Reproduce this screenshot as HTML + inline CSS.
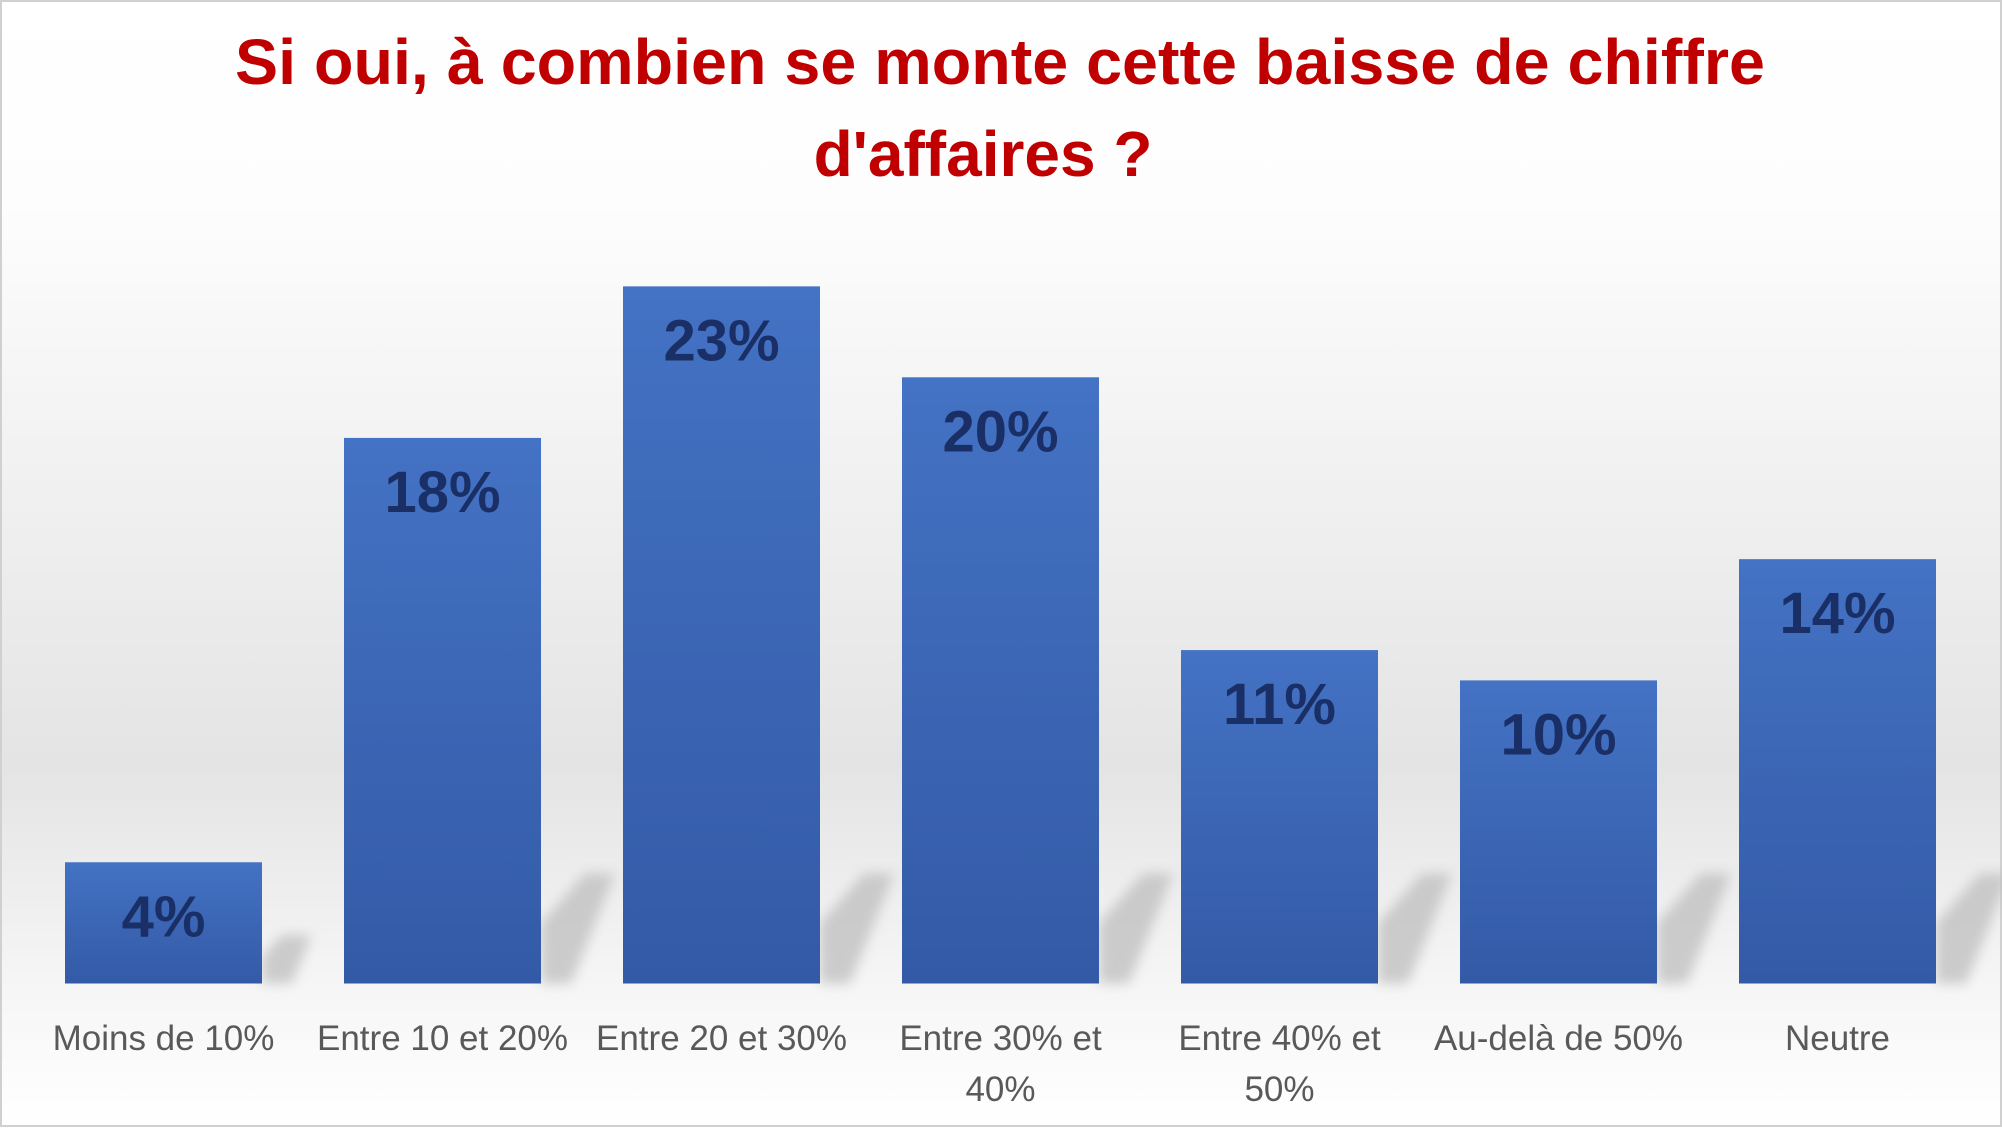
<!DOCTYPE html>
<html><head><meta charset="utf-8"><style>
html,body{margin:0;padding:0;}
body{width:2002px;height:1127px;overflow:hidden;font-family:"Liberation Sans",sans-serif;}
</style></head><body>
<svg id="chart" width="2002" height="1127" xmlns="http://www.w3.org/2000/svg">
<defs>
<linearGradient id="bg" x1="0" y1="0" x2="0" y2="1">
<stop offset="0" stop-color="#ffffff"/>
<stop offset="0.18" stop-color="#fdfdfd"/>
<stop offset="0.68" stop-color="#e4e4e4"/>
<stop offset="0.88" stop-color="#f6f6f6"/>
<stop offset="1" stop-color="#ffffff"/>
</linearGradient>
<linearGradient id="barg" x1="0" y1="0" x2="0" y2="1">
<stop offset="0" stop-color="#4472c4"/>
<stop offset="1" stop-color="#335aa6"/>
</linearGradient>
<filter id="blur"><feGaussianBlur stdDeviation="6"/></filter>
</defs>
<rect x="1" y="1" width="2000" height="1125" fill="url(#bg)" stroke="#d0d0d0" stroke-width="2"/>
<text x="1000" y="84" text-anchor="middle" font-size="64" font-weight="bold" fill="#c00000" textLength="1530" lengthAdjust="spacingAndGlyphs">Si oui, à combien se monte cette baisse de chiffre</text>
<text x="983" y="176" text-anchor="middle" font-size="64" font-weight="bold" fill="#c00000">d'affaires ?</text>
<g id="shadows" filter="url(#blur)"></g>
<g id="bars"></g>
<g id="labels"></g>
</svg>
<script>
const categories = [["Moins de 10%"],["Entre 10 et 20%"],["Entre 20 et 30%"],["Entre 30% et","40%"],["Entre 40% et","50%"],["Au-delà de 50%"],["Neutre"]];
const values = [4,18,23,20,11,10,14];
const valueLabels = ["4%","18%","23%","20%","11%","10%","14%"];

const NS="http://www.w3.org/2000/svg";
const baseY=983.5, pxPerUnit=30.31, step=279.0, left=65+98.5-step/2, barW=197;
function yScale(v){return baseY - v*pxPerUnit;}
function xCenter(i){return left + step*i + step/2;}
const bars=document.getElementById('bars'), labels=document.getElementById('labels'), shadows=document.getElementById('shadows');
values.forEach((v,i)=>{
  const x=xCenter(i)-barW/2, y=yScale(v);
  const sh=document.createElementNS(NS,'polygon');
  const sx=x+barW, sd=Math.min(110,(baseY-y)*0.4);
  sh.setAttribute('points',`${sx},${baseY} ${sx},${baseY-sd*0.55} ${sx+sd*0.4},${baseY-sd} ${sx+sd*0.4+30},${baseY-sd} ${sx+30},${baseY}`);
  sh.setAttribute('fill','#bdbdbd');
  sh.setAttribute('opacity','0.75');
  
  
  shadows.appendChild(sh);
  const r=document.createElementNS(NS,'rect');
  r.setAttribute('x',x);r.setAttribute('y',y);r.setAttribute('width',barW);r.setAttribute('height',baseY-y);
  r.setAttribute('fill','url(#barg)');
  
  
  bars.appendChild(r);
  const t=document.createElementNS(NS,'text');
  t.setAttribute('x',xCenter(i));t.setAttribute('y',y+74);
  t.setAttribute('text-anchor','middle');t.setAttribute('font-size','58');t.setAttribute('font-weight','bold');t.setAttribute('fill','#1a2f66');
  t.textContent=valueLabels[i];
  
  
  bars.appendChild(t);
  categories[i].forEach((line,j)=>{
    const c=document.createElementNS(NS,'text');
    c.setAttribute('x',xCenter(i));c.setAttribute('y',1050+j*51);
    c.setAttribute('text-anchor','middle');c.setAttribute('font-size','35');c.setAttribute('fill','#595959');
    c.textContent=line;
    
    
    labels.appendChild(c);
  });
});
</script>
</body></html>
